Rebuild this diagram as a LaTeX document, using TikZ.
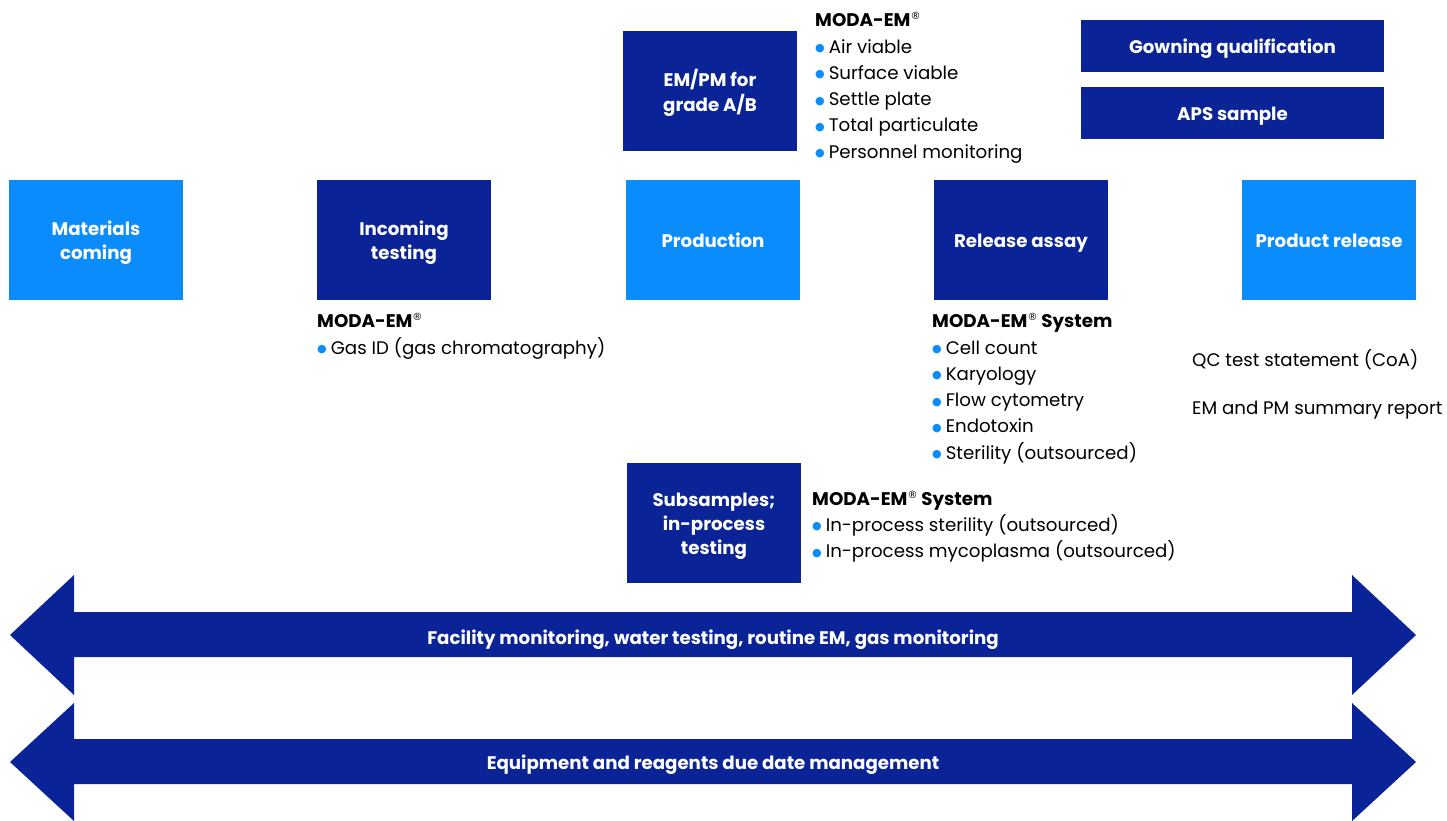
\documentclass[tikz,border=0pt]{standalone}
\usepackage{fontspec}
\setmainfont{Poppins}
\newfontfamily\dejavu{DejaVu Sans}
\definecolor{dblue}{RGB}{10,35,150}
\definecolor{lblue}{RGB}{11,140,253}
\newcommand{\bul}{{\color{lblue}\dejavu\fontsize{11}{11}\selectfont\raisebox{1.4pt}{●}}\hspace{4pt}}
\newcommand{\reg}{\raisebox{6.5pt}{\dejavu\mdseries\fontsize{10}{10}\selectfont ®}}
\newcommand{\bt}[1]{\raisebox{-2.8pt}[\height][\depth]{\begin{tabular}{@{}c@{}}#1\end{tabular}}}
\tikzset{
  box/.style={fill=#1, minimum width=174pt, minimum height=120pt, inner sep=0pt, text=white, align=center,
    font=\fontsize{18.2}{24}\selectfont\bfseries},
  wide/.style={fill=dblue, minimum width=303pt, minimum height=52pt, inner sep=0pt, text=white,
    font=\fontsize{18.2}{24}\selectfont\bfseries},
  txt/.style={anchor=base west, inner sep=0pt, font=\fontsize{18.2}{24}\selectfont},
  hdr/.style={anchor=base west, inner sep=0pt, font=\fontsize{18.3}{24}\selectfont\bfseries},
  arrlabel/.style={text=white, inner sep=0pt, font=\fontsize{18.2}{24}\selectfont\bfseries}
}
\begin{document}
\begin{tikzpicture}[x=1pt,y=-1pt]
\useasboundingbox (0,0) rectangle (1447,820);
% main boxes
\node[box=lblue] (mat) at (96,240) {\bt{Materials\\coming}};
\node[box=dblue] (inc) at (404,240) {\bt{Incoming\\testing}};
\node[box=lblue] (prod) at (713,240) {\bt{Production}};
\node[box=dblue] (rel) at (1021,240) {\bt{Release assay}};
\node[box=lblue] (prel) at (1329,240) {\bt{Product release}};
\node[box=dblue] (empm) at (710,91) {\bt{EM/PM for\\grade A/B}};
\node[box=dblue] (sub) at (714,523) {\bt{Subsamples;\\in-process\\testing}};
\node[wide] (gown) at (1232.5,46) {\bt{Gowning qualification}};
\node[wide] (aps) at (1232.5,113) {\bt{APS sample}};
% top list
\node[hdr] (h1) at (815,26) {MODA-EM\reg};
\node[txt] (t11) at (815,53) {\bul Air viable};
\node[txt] (t12) at (815,79.3) {\bul Surface viable};
\node[txt] (t13) at (815,105.6) {\bul Settle plate};
\node[txt] (t14) at (815,131.9) {\bul Total particulate};
\node[txt] (t15) at (815,158.2) {\bul Personnel monitoring};
% incoming list
\node[hdr] (h2) at (317,327) {MODA-EM\reg};
\node[txt] (t21) at (317,354) {\bul Gas ID (gas chromatography)};
% release list
\node[hdr] (h3) at (932,327) {MODA-EM\reg{} System};
\node[txt] (t31) at (932,354) {\bul Cell count};
\node[txt] (t32) at (932,380.3) {\bul Karyology};
\node[txt] (t33) at (932,406.6) {\bul Flow cytometry};
\node[txt] (t34) at (932,432.9) {\bul Endotoxin};
\node[txt] (t35) at (932,459.2) {\bul Sterility (outsourced)};
% subsample list
\node[hdr] (h4) at (812,505) {MODA-EM\reg{} System};
\node[txt] (t41) at (812,531) {\bul In-process sterility (outsourced)};
\node[txt] (t42) at (812,557.5) {\bul In-process mycoplasma (outsourced)};
% product release text
\node[txt] (q1) at (1192,366) {QC test statement (CoA)};
\node[txt] (q2) at (1192,414) {EM and PM summary report};
% double arrows
\fill[dblue] (10,635) -- (74,575) -- (74,612) -- (1352,612) -- (1352,575) -- (1416,635) -- (1352,695) -- (1352,657) -- (74,657) -- (74,695) -- cycle;
\node[arrlabel] (a1) at (713,639.5) {Facility monitoring, water testing, routine EM, gas monitoring};
\fill[dblue] (10,762) -- (74,703) -- (74,739) -- (1352,739) -- (1352,703) -- (1416,762) -- (1352,821) -- (1352,784) -- (74,784) -- (74,821) -- cycle;
\node[arrlabel] (a2) at (713,764.5) {Equipment and reagents due date management};
\end{tikzpicture}
\end{document}
